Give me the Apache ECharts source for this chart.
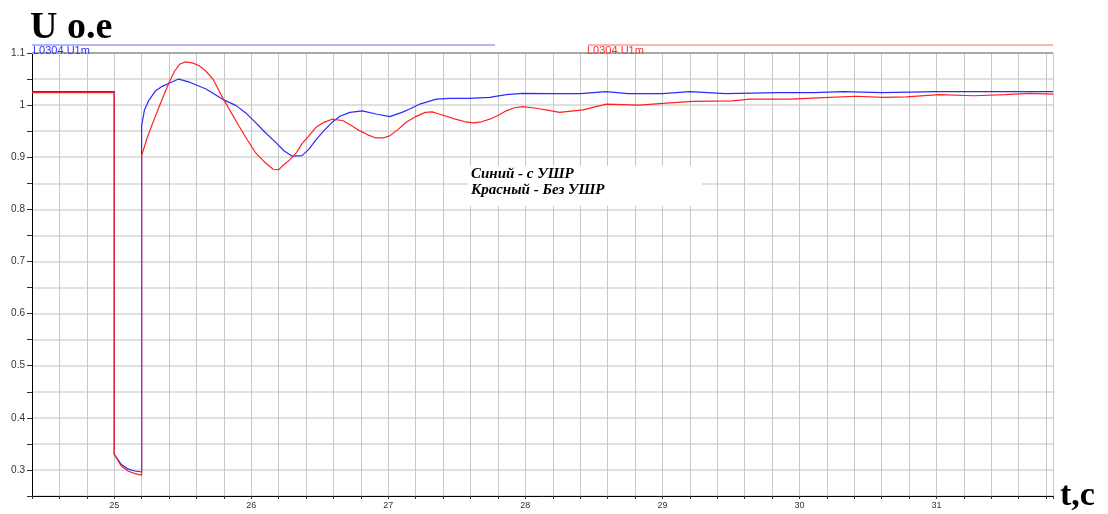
<!DOCTYPE html>
<html>
<head>
<meta charset="utf-8">
<script src="https://cdn.jsdelivr.net/npm/echarts@6/dist/echarts.min.js"></script>
<style>
    html, body { margin: 0; padding: 0; background: #fff; }
    #chart { width: 1108px; height: 514px; }
</style>
</head>
<body>
<div id="chart"></div>
<script>
// время, с
const blueT = [24.4, 25.0, 25.0, 25.05, 25.1, 25.15, 25.2, 25.2, 25.22, 25.25, 25.3, 25.35, 25.4, 25.47, 25.55, 25.67, 25.8, 25.89, 25.96, 26.03, 26.1, 26.18, 26.24, 26.3, 26.37, 26.42, 26.47, 26.53, 26.59, 26.65, 26.72, 26.81, 26.91, 27.01, 27.1, 27.16, 27.23, 27.35, 27.45, 27.59, 27.74, 27.86, 27.98, 28.18, 28.4, 28.59, 28.75, 29.0, 29.2, 29.46, 29.85, 30.1, 30.32, 30.6, 31.0, 31.4, 31.55, 31.85];
const blueU = [1.026, 1.026, 0.33, 0.311, 0.302, 0.298, 0.296, 0.96, 0.99, 1.008, 1.027, 1.036, 1.042, 1.05, 1.044, 1.031, 1.01, 0.999, 0.985, 0.967, 0.948, 0.928, 0.912, 0.902, 0.903, 0.915, 0.933, 0.951, 0.967, 0.979, 0.986, 0.989, 0.983, 0.978, 0.986, 0.993, 1.002, 1.0115, 1.013, 1.013, 1.015, 1.02, 1.0225, 1.022, 1.022, 1.026, 1.022, 1.022, 1.026, 1.022, 1.024, 1.024, 1.026, 1.024, 1.026, 1.026, 1.026, 1.026];

const redT = [24.4, 25.0, 25.0, 25.05, 25.1, 25.15, 25.2, 25.2, 25.24, 25.28, 25.34, 25.4, 25.44, 25.48, 25.52, 25.57, 25.62, 25.67, 25.72, 25.8, 25.91, 25.97, 26.03, 26.1, 26.16, 26.2, 26.23, 26.28, 26.33, 26.37, 26.42, 26.47, 26.53, 26.59, 26.67, 26.73, 26.79, 26.85, 26.91, 26.96, 27.01, 27.07, 27.13, 27.2, 27.27, 27.32, 27.37, 27.49, 27.56, 27.62, 27.68, 27.74, 27.8, 27.86, 27.92, 27.98, 28.08, 28.17, 28.25, 28.42, 28.59, 28.83, 29.03, 29.22, 29.51, 29.64, 29.93, 30.22, 30.41, 30.61, 30.78, 31.02, 31.27, 31.5, 31.68, 31.85];
const redU = [1.024, 1.024, 0.33, 0.308, 0.298, 0.293, 0.29, 0.903, 0.937, 0.965, 1.005, 1.0435, 1.065, 1.079, 1.083, 1.081, 1.0755, 1.065, 1.05, 1.01, 0.96, 0.934, 0.909, 0.89, 0.877, 0.876, 0.884, 0.895, 0.909, 0.926, 0.941, 0.957, 0.967, 0.973, 0.97, 0.961, 0.951, 0.943, 0.937, 0.937, 0.941, 0.953, 0.967, 0.978, 0.986, 0.987, 0.983, 0.973, 0.968, 0.966, 0.968, 0.973, 0.98, 0.989, 0.995, 0.997, 0.994, 0.99, 0.986, 0.991, 1.002, 1.0, 1.004, 1.007, 1.008, 1.0115, 1.0115, 1.015, 1.017, 1.015, 1.016, 1.02, 1.018, 1.02, 1.0225, 1.021];

const seriesName = 'L0304.U1m';
const legendLines = ['Синий - с УШР', 'Красный - Без УШР'];

(function () {
    let chart = echarts.init(document.querySelector('#chart'));

    const pairs = (t, u) => t.map((x, i) => [x, u[i]]);
    const isWhole = (v, step) => Math.abs(v / step - Math.round(v / step)) < 1e-6;

    let option = {
        animation: false,
        grid: { left: 32, top: 53, right: 55, bottom: 18 },
        xAxis: {
            type: 'value',
            min: 24.4,
            max: 31.85,
            interval: 0.2,
            axisLine: { lineStyle: { color: '#000', width: 1 } },
            axisTick: { show: true, length: 3, lineStyle: { color: '#333' } },
            axisLabel: {
                fontSize: 9,
                color: '#333',
                margin: 5,
                fontFamily: 'Liberation Sans',
                formatter: v => isWhole(v, 1) ? String(Math.round(v)) : ''
            },
            splitLine: { show: true, lineStyle: { color: '#c8c8c8', width: 1 } }
        },
        yAxis: {
            type: 'value',
            min: 0.25,
            max: 1.1,
            interval: 0.05,
            axisLine: { show: true, lineStyle: { color: '#000', width: 1 } },
            axisTick: { show: true, length: 5, lineStyle: { color: '#333' } },
            axisLabel: {
                fontSize: 10,
                color: '#333',
                margin: 7,
                fontFamily: 'Liberation Sans',
                formatter: v => isWhole(v, 0.1) ? String(Math.round(v * 10) / 10) : ''
            },
            splitLine: { show: true, lineStyle: { color: '#e0e0e0', width: 2 } }
        },
        series: [
            {
                name: 'blue',
                type: 'line',
                data: pairs(blueT, blueU),
                showSymbol: false,
                lineStyle: { color: '#2a2aff', width: 1.2 },
                z: 3
            },
            {
                name: 'red',
                type: 'line',
                data: pairs(redT, redU),
                showSymbol: false,
                lineStyle: { color: '#ff2020', width: 1.2 },
                z: 4
            }
        ],
        graphic: [
            { type: 'text', left: 30, top: 9, z: 10,
              style: { text: 'U o.e', font: 'bold 38px "Liberation Serif"', fill: '#000' } },
            { type: 'text', left: 1060, top: 479, z: 10,
              style: { text: 't,c', font: 'bold 34px "Liberation Serif"', fill: '#000' } },
            { type: 'line', z: 10, shape: { x1: 32, y1: 45, x2: 495, y2: 45 },
              style: { stroke: '#6a6aff', lineWidth: 1 } },
            { type: 'line', z: 10, shape: { x1: 588, y1: 45, x2: 1053, y2: 45 },
              style: { stroke: '#ff6a6a', lineWidth: 1 } },
            { type: 'line', z: 10, shape: { x1: 32, y1: 53, x2: 1053, y2: 53 },
              style: { stroke: '#a8a8a8', lineWidth: 2 } },
            { type: 'text', left: 33, top: 45, z: 10,
              style: { text: seriesName, font: '11px "Liberation Sans"', fill: '#3030ff' } },
            { type: 'text', left: 587, top: 45, z: 10,
              style: { text: seriesName, font: '11px "Liberation Sans"', fill: '#ff3030' } },
            { type: 'rect', z: 10, shape: { x: 468, y: 166, width: 234, height: 40 },
              style: { fill: '#fff' } },
            { type: 'text', left: 471, top: 166, z: 11,
              style: { text: legendLines.join('\n'), font: 'italic bold 15px "Liberation Serif"', lineHeight: 16, fill: '#000' } }
        ]
    };

    chart.setOption(option);
})();
</script>
</body>
</html>
